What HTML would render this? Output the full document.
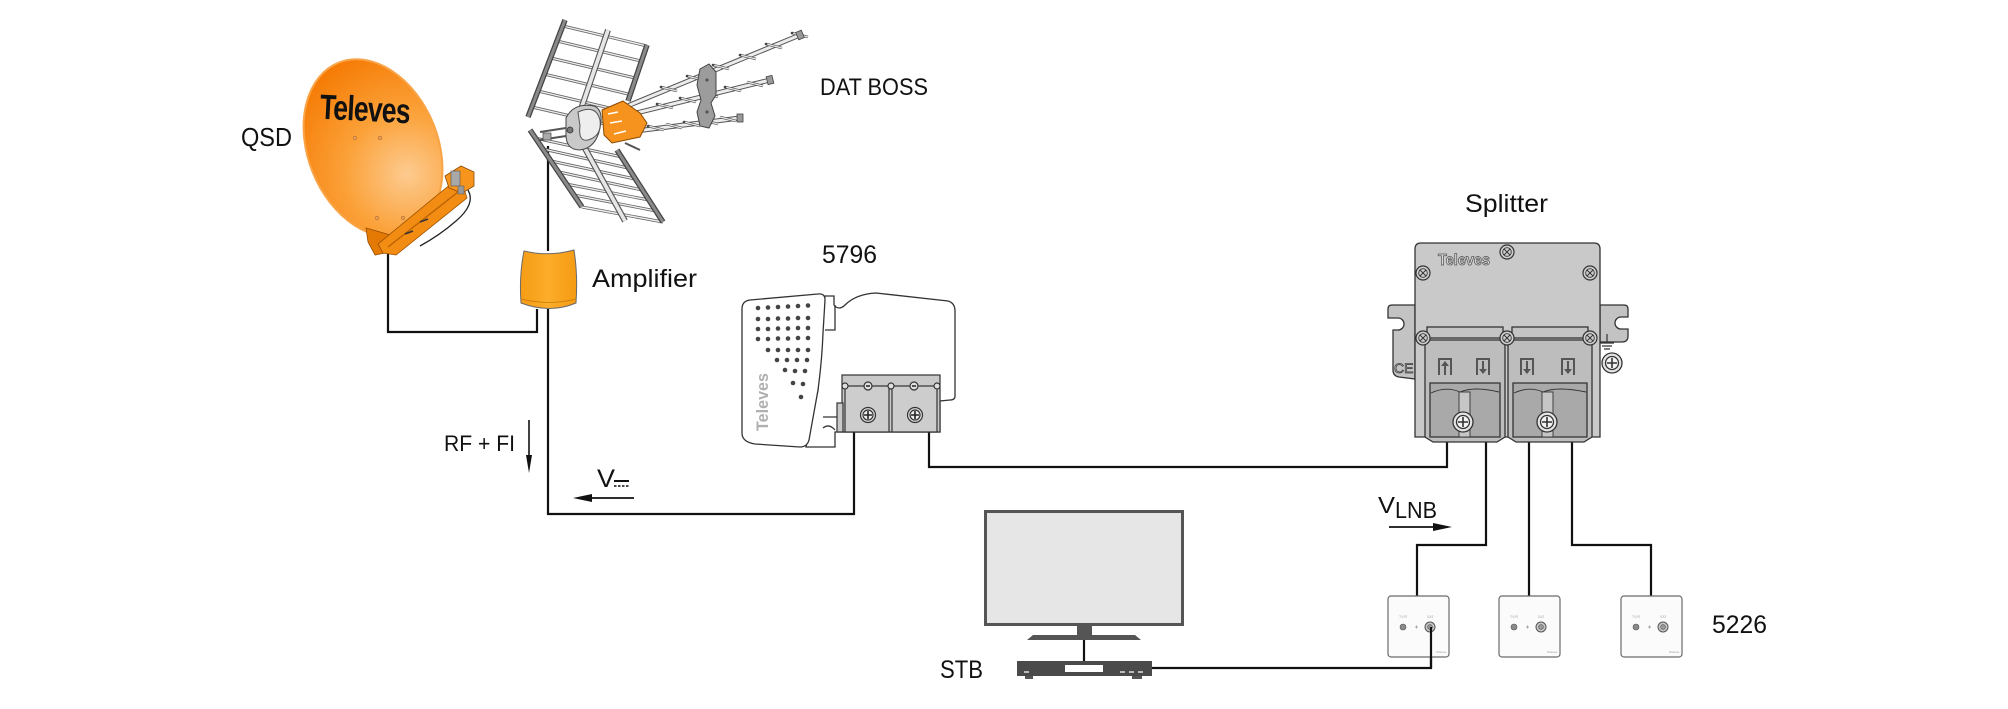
<!DOCTYPE html>
<html><head><meta charset="utf-8"><style>
html,body{margin:0;padding:0;background:#fff;}
svg{display:block;}
text{font-family:"Liberation Sans",Arial,sans-serif;}
</style></head><body>
<svg width="2008" height="709" viewBox="0 0 2008 709" xmlns="http://www.w3.org/2000/svg">
<defs>
<radialGradient id="dg" cx="395" cy="185" r="135" gradientUnits="userSpaceOnUse">
<stop offset="0" stop-color="#fdcb90"/><stop offset="0.45" stop-color="#fba23a"/><stop offset="1" stop-color="#f57800"/>
</radialGradient>
<linearGradient id="ampg" x1="0" x2="1" y1="0" y2="0">
<stop offset="0" stop-color="#f59c14"/><stop offset="0.5" stop-color="#fcad2a"/><stop offset="1" stop-color="#f59a12"/>
</linearGradient>
<g id="xs"><circle r="7" fill="#cfcfcf" stroke="#333" stroke-width="1.2"/><circle r="4.3" fill="none" stroke="#333" stroke-width="0.9"/><path d="M-3,-3L3,3M-3,3L3,-3" stroke="#333" stroke-width="1"/></g>
<g id="outlet"><rect x="0" y="0" width="61" height="61" rx="3" fill="#fbfbfb" stroke="#6a6a6a" stroke-width="1.2"/>
<circle cx="15" cy="31" r="3" fill="#8a8a8a" stroke="#555" stroke-width=".6"/>
<path d="M27,31h3M28.5,29.5v3" stroke="#999" stroke-width=".8"/>
<circle cx="42" cy="31" r="5" fill="#c8c8c8" stroke="#555" stroke-width="1"/><circle cx="42" cy="31" r="2.4" fill="#999" stroke="#555" stroke-width=".6"/>
<text x="11" y="22" font-size="3.5" fill="#aaa">TV/R</text><text x="39" y="22" font-size="3.5" fill="#aaa">SAT</text>
<text x="48" y="57" font-size="3" fill="#999">Televes</text></g>
</defs>

<!-- ============ CABLES ============ -->
<g stroke="#111" stroke-width="2.2" fill="none">
<path d="M388,252V332H537V309"/>
<path d="M548,146V251"/>
<path d="M548,309V514H854V431"/>
<path d="M929,431V467H1447V441"/>
<path d="M1486,441V545H1417V597"/>
<path d="M1529,441V597"/>
<path d="M1572,441V545H1651V597"/>
<path d="M1431,628V668H1151"/>
<path d="M1084,640V662"/>
</g>

<!-- ============ DISH ============ -->
<g>
<ellipse cx="373" cy="148" rx="65" ry="92" transform="rotate(-22 373 148)" fill="url(#dg)" stroke="#f9a448" stroke-width="2"/>
<text x="320" y="121" font-size="35" font-weight="bold" fill="#111" textLength="90" lengthAdjust="spacingAndGlyphs" transform="rotate(3 365 107)" letter-spacing="-1">Televes</text>
<circle cx="355" cy="138" r="1.8" fill="#e8a060" stroke="#b86a20" stroke-width=".6"/>
<circle cx="380" cy="138" r="1.8" fill="#e8a060" stroke="#b86a20" stroke-width=".6"/>
<circle cx="377" cy="218" r="1.8" fill="#e8a060" stroke="#b86a20" stroke-width=".6"/>
<circle cx="403" cy="218" r="1.8" fill="#e8a060" stroke="#b86a20" stroke-width=".6"/>
<polygon points="366,228 394,236 390,252 375,255 368,242" fill="#e47a04" stroke="#9a4e00" stroke-width=".8"/>
<polygon points="452,183 464,189 467,198 396,255 383,253 378,244" fill="#f28c12" stroke="#9a4e00" stroke-width=".8"/>
<path d="M458,192L388,247" stroke="#b85f00" stroke-width="1.2"/>
<path d="M420,222l8,-3M405,234l8,-3" stroke="#333" stroke-width="1.5"/>
<path d="M468,190Q476,204 456,221Q440,235 420,246" stroke="#222" stroke-width="1.3" fill="none"/>
<polygon points="445,176 461,166 474,172 474,186 462,193 449,188" fill="#f7941d" stroke="#8a4a00" stroke-width=".8"/>
<rect x="451" y="171" width="9" height="15" fill="#a8a8a8" stroke="#555" stroke-width=".6"/>
<rect x="458" y="186" width="6" height="8" fill="#999" stroke="#555" stroke-width=".5"/>
</g>

<!-- ============ ANTENNA ============ -->
<g>
<!-- lower panel wires -->
<path d="M535,138L622,157M543,149L628,168M551,161L635,179M559,172L642,190M566,184L649,200M574,195L656,211M582,207L663,222" stroke="#666" stroke-width="3" fill="none"/>
<path d="M535,138L622,157M543,149L628,168M551,161L635,179M559,172L642,190M566,184L649,200M574,195L656,211M582,207L663,222" stroke="#eee" stroke-width="1.4" fill="none"/>
<path d="M582,143L625,221" stroke="#555" stroke-width="6"/><path d="M582,143L625,221" stroke="#e6e6e6" stroke-width="3.8"/>
<path d="M530,130L582,207" stroke="#444" stroke-width="5.5"/><path d="M530,130L582,207" stroke="#8a8a8a" stroke-width="3"/>
<path d="M617,150L663,222" stroke="#444" stroke-width="5.5"/><path d="M617,150L663,222" stroke="#8a8a8a" stroke-width="3"/>
<!-- upper panel wires -->
<path d="M563,26L647,46M557,41L641,61M551,58L635,78M544,74L628,94M538,91L622,111M532,107L605,124" stroke="#666" stroke-width="3" fill="none"/>
<path d="M563,26L647,46M557,41L641,61M551,58L635,78M544,74L628,94M538,91L622,111M532,107L605,124" stroke="#eee" stroke-width="1.4" fill="none"/>
<path d="M608,30L580,112" stroke="#555" stroke-width="6"/><path d="M608,30L580,112" stroke="#e6e6e6" stroke-width="3.8"/>
<path d="M565,20L528,117" stroke="#444" stroke-width="5.5"/><path d="M565,20L528,117" stroke="#8a8a8a" stroke-width="3"/>
<path d="M647,45L628,101" stroke="#444" stroke-width="5.5"/><path d="M647,45L628,101" stroke="#8a8a8a" stroke-width="3"/>
<!-- yagi booms -->
<path d="M625,107L800,35M620,117L770,80M620,133L740,118" stroke="#555" stroke-width="5"/>
<path d="M625,107L800,35M620,117L770,80M620,133L740,118" stroke="#ececec" stroke-width="3"/>
<!-- directors -->
<path d="M661,87l16,4M687,76l16,4M713,65l16,4M740,55l16,4M766,44l16,4M792,33l16,4M657,104l16,4M680,98l16,4M702,93l16,4M725,87l16,4M747,82l16,4M648,126l16,4M666,124l16,4M684,122l16,4M702,120l16,4M720,117l16,4" stroke="#555" stroke-width="2.6"/>
<path d="M661,87l16,4M687,76l16,4M713,65l16,4M740,55l16,4M766,44l16,4M792,33l16,4M657,104l16,4M680,98l16,4M702,93l16,4M725,87l16,4M747,82l16,4M648,126l16,4M666,124l16,4M684,122l16,4M702,120l16,4M720,117l16,4" stroke="#e6e6e6" stroke-width="1.2"/>
<g fill="#444"><circle cx="661" cy="87" r="1.3"/><circle cx="687" cy="76" r="1.3"/><circle cx="713" cy="65" r="1.3"/><circle cx="740" cy="55" r="1.3"/><circle cx="766" cy="44" r="1.3"/><circle cx="792" cy="33" r="1.3"/><circle cx="657" cy="104" r="1.3"/><circle cx="680" cy="98" r="1.3"/><circle cx="725" cy="87" r="1.3"/><circle cx="648" cy="126" r="1.3"/><circle cx="684" cy="122" r="1.3"/></g>
<rect x="797" y="31" width="6" height="8" fill="#999" stroke="#444" stroke-width=".8" transform="rotate(-22 800 35)"/>
<rect x="767" y="76" width="6" height="8" fill="#999" stroke="#444" stroke-width=".8" transform="rotate(-14 770 80)"/>
<rect x="737" y="114" width="6" height="8" fill="#999" stroke="#444" stroke-width=".8"/>
<!-- gray bracket -->
<polygon points="700,69 709,64 716,72 716,95 711,103 715,116 709,128 700,126 697,112 701,100 697,85" fill="#9c9c9c" stroke="#444" stroke-width="1"/>
<circle cx="707" cy="80" r="1.6" fill="#555"/><circle cx="707" cy="112" r="1.6" fill="#555"/>
<!-- mount -->
<path d="M566,118Q574,102 594,106Q604,110 600,128Q596,148 580,150Q565,150 566,132Z" fill="#c9c9c9" stroke="#444" stroke-width="1"/>
<path d="M578,112Q596,104 600,120Q602,136 588,140Q578,142 580,126Z" fill="#eee" stroke="#555" stroke-width="1"/>
<circle cx="570" cy="130" r="3" fill="#777" stroke="#333" stroke-width=".8"/>
<path d="M540,132L566,128M540,140L566,136" stroke="#555" stroke-width="2"/>
<rect x="543" y="133" width="8" height="7" fill="#aaa" stroke="#444" stroke-width=".7"/>
<!-- orange hub -->
<polygon points="602,110 623,101 640,113 647,123 640,137 612,143 604,135" fill="#f6921e" stroke="#8a4a00" stroke-width="1"/>
<path d="M608,114l10,-2M610,123l12,-2M614,134l12,-3" stroke="#fff" stroke-width="1.6"/>
<path d="M625,143L640,150" stroke="#555" stroke-width="2"/>
</g>

<!-- ============ AMPLIFIER ============ -->
<path d="M524,251Q549,257 574,250Q578,275 576,303Q550,314 521,303Q519,275 524,251Z" fill="url(#ampg)" stroke="#6a6a6a" stroke-width="1"/>
<path d="M521,299Q549,306 576,299" stroke="#c47a0c" stroke-width=".8" fill="none"/>

<!-- ============ 5796 ============ -->
<g stroke="#333" stroke-width="1.3" fill="#fff">
<path d="M825,296L834,296L834,305Q839,311 845,305Q856,294 876,293L948,301Q955,303 955,311L955,396Q955,400 950,400L940,401L940,432L835,432L835,447L806,447L818,390Z"/>
<path d="M825,330H835V305" fill="none"/>
<path d="M823,417H837M823,428Q829,423 835,430" fill="none"/>
<path d="M742,309Q742,301 750,300L818,294Q825,293 825,300L823,333Q822,360 818,390L809,440Q807,447 800,447L755,444Q742,442 742,433Z"/>
</g>
<g fill="#444">
<circle cx="758" cy="308" r="2.3"/><circle cx="768" cy="307.5" r="2.3"/><circle cx="778" cy="307" r="2.3"/><circle cx="788" cy="306.5" r="2.3"/><circle cx="798" cy="306" r="2.3"/><circle cx="808" cy="305.5" r="2.3"/>
<circle cx="758" cy="319" r="2.3"/><circle cx="768" cy="319" r="2.3"/><circle cx="778" cy="318.5" r="2.3"/><circle cx="788" cy="318.5" r="2.3"/><circle cx="798" cy="318" r="2.3"/><circle cx="808" cy="318" r="2.3"/>
<circle cx="758" cy="329" r="2.3"/><circle cx="768" cy="329" r="2.3"/><circle cx="778" cy="328.5" r="2.3"/><circle cx="788" cy="328.5" r="2.3"/><circle cx="798" cy="328" r="2.3"/><circle cx="808" cy="328" r="2.3"/>
<circle cx="758" cy="339" r="2.3"/><circle cx="768" cy="339" r="2.3"/><circle cx="778" cy="338.5" r="2.3"/><circle cx="788" cy="338.5" r="2.3"/><circle cx="798" cy="338" r="2.3"/><circle cx="808" cy="338" r="2.3"/>
<circle cx="768" cy="350" r="2.3"/><circle cx="778" cy="350" r="2.3"/><circle cx="788" cy="350" r="2.3"/><circle cx="798" cy="350" r="2.3"/><circle cx="808" cy="350" r="2.3"/>
<circle cx="777" cy="360" r="2.3"/><circle cx="787" cy="360" r="2.3"/><circle cx="797" cy="360" r="2.3"/><circle cx="807" cy="360" r="2.3"/>
<circle cx="785" cy="370" r="2.3"/><circle cx="795" cy="371" r="2.3"/><circle cx="805" cy="371" r="2.3"/>
<circle cx="793" cy="383" r="2.3"/><circle cx="803" cy="384" r="2.3"/>
<circle cx="801" cy="397" r="2.3"/>
</g>
<text transform="translate(768,431) rotate(-90)" font-size="17" font-weight="bold" fill="#b0b0b0" textLength="58" lengthAdjust="spacingAndGlyphs">Televes</text>
<g stroke="#333" stroke-width="1.2">
<rect x="842" y="375" width="98" height="57" fill="#c9c9c9"/>
<rect x="837" y="403" width="6" height="29" fill="#c9c9c9"/>
<rect x="845" y="386" width="44" height="46" fill="#cdcdcd"/>
<rect x="892" y="386" width="45" height="46" fill="#cdcdcd"/>
<g fill="#e0e0e0"><circle cx="868" cy="386" r="4"/><circle cx="914" cy="386" r="4"/><circle cx="845" cy="386" r="3"/><circle cx="891" cy="386" r="3"/><circle cx="937" cy="386" r="3"/></g>
<circle cx="868" cy="415" r="7.5" fill="#ddd"/><circle cx="868" cy="415" r="5" fill="#eee"/>
<circle cx="915" cy="415" r="7.5" fill="#ddd"/><circle cx="915" cy="415" r="5" fill="#eee"/>
</g>
<path d="M864,415h8M868,411v8M911,415h8M915,411v8M866,386h4M912,386h4" stroke="#222" stroke-width="1.6"/>

<!-- ============ SPLITTER ============ -->
<g stroke="#333" stroke-width="1.3">
<path d="M1415,305L1392,305Q1388,305 1388,309L1388,318L1398,318A6,6 0 0 1 1398,330L1393,330L1393,370Q1393,376 1399,377L1415,379Z" fill="#c3c3c3"/>
<path d="M1600,305L1624,305Q1628,305 1628,309L1628,317L1621,317A6,6 0 0 0 1621,329L1628,329L1628,336Q1628,342 1622,342L1600,342Z" fill="#c3c3c3"/>
<path d="M1421,243L1594,243Q1600,243 1600,249L1600,437L1415,437L1415,249Q1415,243 1421,243Z" fill="#c9c9c9"/>
<rect x="1427" y="327" width="76" height="11" fill="#c4c4c4"/>
<rect x="1512" y="327" width="76" height="11" fill="#c4c4c4"/>
<path d="M1425,340L1505,340L1505,437L1497,442L1433,442L1425,437Z" fill="#bdbdbd"/>
<path d="M1508,340L1592,340L1592,437L1584,442L1516,442L1508,437Z" fill="#bdbdbd"/>
<path d="M1430,383L1500,383L1500,437L1430,437Z" fill="#a9a9a9"/>
<path d="M1513,383L1587,383L1587,437L1513,437Z" fill="#a9a9a9"/>
<path d="M1431,393Q1446,386 1460,392Q1474,386 1499,392" fill="none" stroke-width=".9"/>
<path d="M1514,393Q1529,386 1543,392Q1557,386 1586,392" fill="none" stroke-width=".9"/>
<rect x="1459" y="392" width="11" height="45" fill="#c6c6c6" stroke-width=".9"/>
<rect x="1542" y="392" width="11" height="45" fill="#c6c6c6" stroke-width=".9"/>
<circle cx="1463" cy="422" r="10" fill="#e4e4e4"/><circle cx="1463" cy="422" r="6.5" fill="#f2f2f2"/>
<circle cx="1547" cy="422" r="10" fill="#e4e4e4"/><circle cx="1547" cy="422" r="6.5" fill="#f2f2f2"/>
<circle cx="1612" cy="363" r="10" fill="#e4e4e4"/><circle cx="1612" cy="363" r="6.5" fill="#f2f2f2"/>
</g>
<path d="M1458,422h10M1463,417v10M1542,422h10M1547,417v10M1607,363h10M1612,358v10" stroke="#333" stroke-width="1.6"/>
<path d="M1607,334V343M1600,343H1614M1602,346H1612M1604,349H1610" stroke="#333" stroke-width="1.2"/>
<use href="#xs" x="1507" y="252"/><use href="#xs" x="1423" y="273"/><use href="#xs" x="1590" y="273"/>
<use href="#xs" x="1423" y="338"/><use href="#xs" x="1507" y="338"/><use href="#xs" x="1590" y="338"/>
<text x="1438" y="265" font-size="16" font-weight="bold" fill="#d8d8d8" stroke="#555" stroke-width=".8" textLength="52" lengthAdjust="spacingAndGlyphs">Televes</text>
<text x="1394" y="373" font-size="14" fill="none" stroke="#444" stroke-width=".8">CE</text>
<g stroke="#555" stroke-width="2" fill="none">
<path d="M1439,375V359H1451V375"/><path d="M1477,375V359H1489V375"/><path d="M1521,375V359H1533V375"/><path d="M1562,375V359H1574V375"/>
<path d="M1445,375V365"/><path d="M1483,361V370"/><path d="M1527,361V370"/><path d="M1568,361V370"/>
</g>
<g fill="#555">
<polygon points="1441,366 1449,366 1445,361"/><polygon points="1479,369 1487,369 1483,374"/><polygon points="1523,369 1531,369 1527,374"/><polygon points="1564,369 1572,369 1568,374"/>
</g>

<!-- ============ OUTLETS ============ -->
<use href="#outlet" x="1388" y="596"/>
<use href="#outlet" x="1499" y="596"/>
<use href="#outlet" x="1621" y="596"/>
<path d="M1431,627V668" stroke="#111" stroke-width="2.2"/>

<!-- ============ TV / STB ============ -->
<rect x="985.5" y="511.5" width="197" height="113" fill="#e6e6e6" stroke="#555" stroke-width="3"/>
<rect x="1077" y="626" width="15" height="10" fill="#555"/>
<polygon points="1033,635 1135,635 1141,640 1027,640" fill="#555"/>
<rect x="1017" y="661" width="135" height="15" fill="#4a4a4a"/>
<rect x="1065" y="665" width="38" height="7" fill="#fff"/>
<path d="M1024,672h5M1120,672h5M1129,672h5M1138,672h5" stroke="#fff" stroke-width="1.3"/>
<rect x="1025" y="676" width="8" height="3" fill="#555"/><rect x="1132" y="676" width="10" height="3" fill="#555"/>

<!-- ============ ARROWS ============ -->
<path d="M529,420V458" stroke="#111" stroke-width="1.6"/><polygon points="526,455 532,455 529,473" fill="#111"/>
<path d="M590,498H634" stroke="#111" stroke-width="1.8"/><polygon points="592,494 592,502 573,498" fill="#111"/>
<path d="M1389,527H1435" stroke="#111" stroke-width="1.8"/><polygon points="1433,523 1433,531 1452,527" fill="#111"/>
<path d="M614,481H629" stroke="#111" stroke-width="2"/>
<path d="M614,486h2.5M618,486h2.5M622,486h2.5M626,486h2.5" stroke="#111" stroke-width="1.4"/>

<!-- ============ LABELS ============ -->
<g fill="#111">
<text x="241" y="146" font-size="26" textLength="51" lengthAdjust="spacingAndGlyphs">QSD</text>
<text x="820" y="95" font-size="24" textLength="108" lengthAdjust="spacingAndGlyphs">DAT BOSS</text>
<text x="592" y="287" font-size="25" textLength="105" lengthAdjust="spacingAndGlyphs">Amplifier</text>
<text x="822" y="263" font-size="25" textLength="55" lengthAdjust="spacingAndGlyphs">5796</text>
<text x="1465" y="212" font-size="25" textLength="83" lengthAdjust="spacingAndGlyphs">Splitter</text>
<text x="1712" y="633" font-size="25" textLength="55" lengthAdjust="spacingAndGlyphs">5226</text>
<text x="940" y="678" font-size="25" textLength="43" lengthAdjust="spacingAndGlyphs">STB</text>
<text x="444" y="451" font-size="22" textLength="71" lengthAdjust="spacingAndGlyphs">RF + FI</text>
<text x="597" y="487" font-size="25" textLength="18" lengthAdjust="spacingAndGlyphs">V</text>
<text x="1378" y="513" font-size="23" textLength="17" lengthAdjust="spacingAndGlyphs">V</text>
<text x="1395" y="518" font-size="23" textLength="42" lengthAdjust="spacingAndGlyphs">LNB</text>
</g>
</svg>
</body></html>
